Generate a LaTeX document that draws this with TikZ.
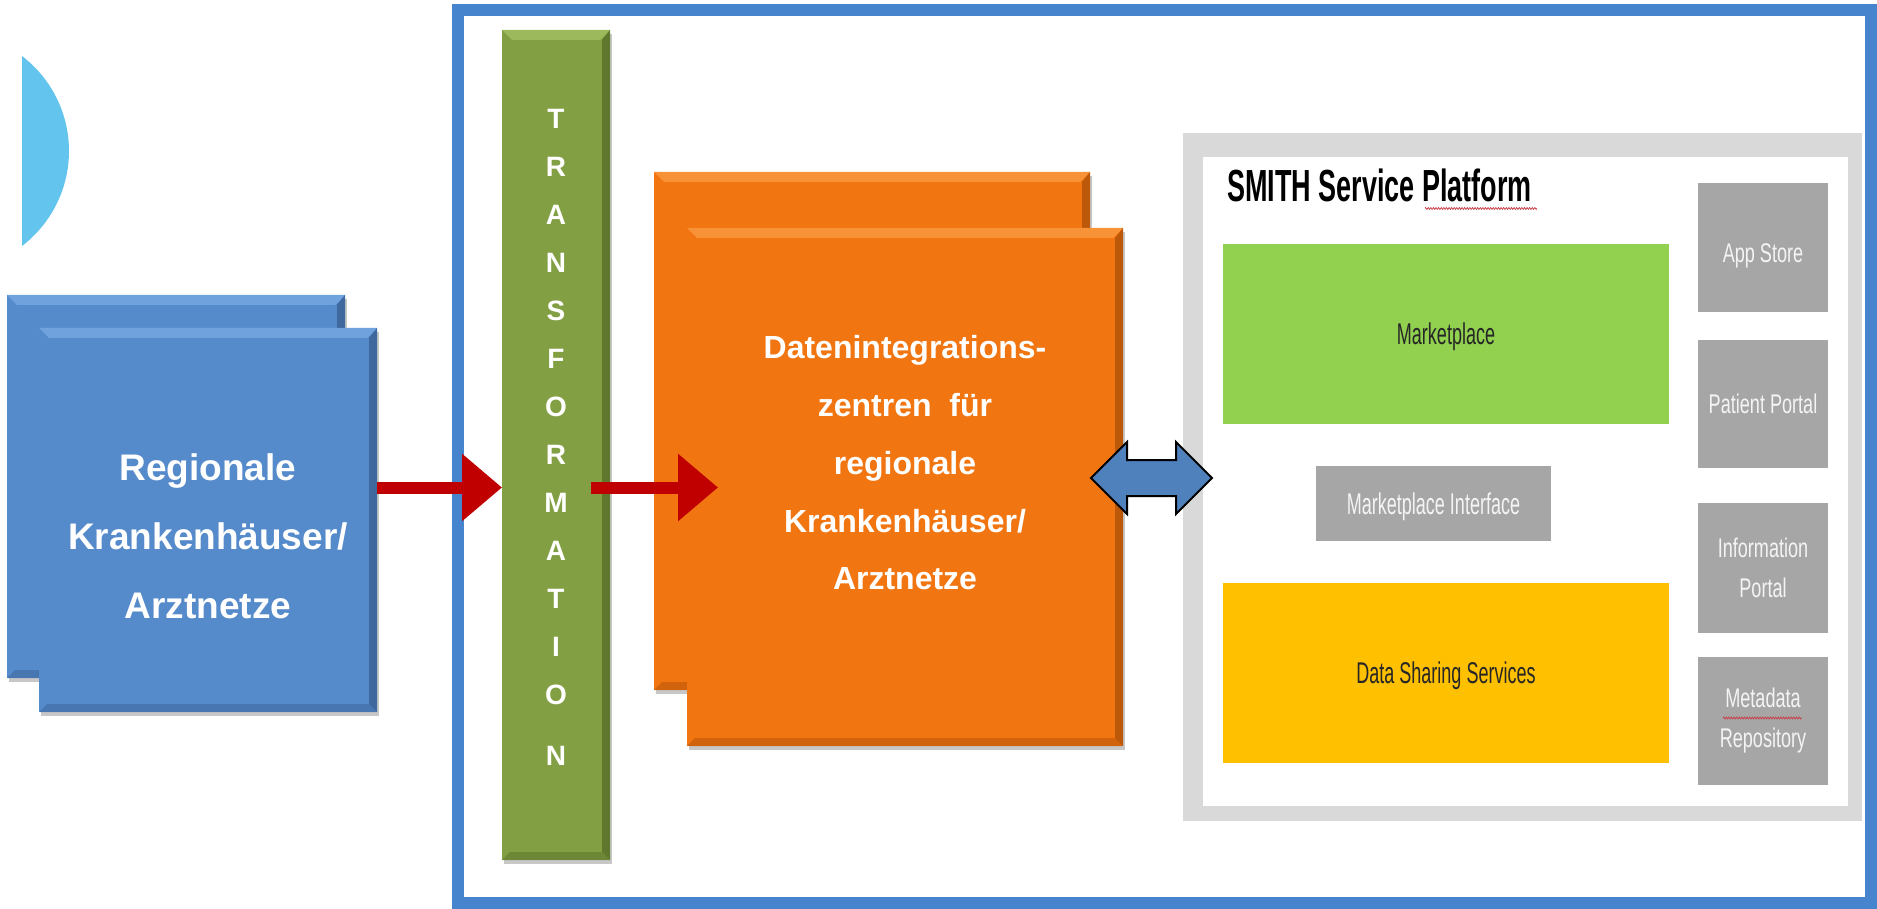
\documentclass[tikz,border=0pt]{standalone}
\usepackage{fontspec}
\setmainfont{Liberation Sans}
\newfontfamily\narrowfont[FakeStretch=0.6]{Liberation Sans}
\newfontfamily\tilefont[FakeStretch=0.67]{Liberation Sans}
\usetikzlibrary{arrows.meta,shadows,decorations.pathmorphing}

\definecolor{boxblue}{RGB}{86,139,203}
\definecolor{boxbluelt}{RGB}{112,163,222}
\definecolor{boxbluedk}{RGB}{62,104,158}
\definecolor{frameblue}{RGB}{71,132,206}
\definecolor{transgreen}{RGB}{130,159,67}
\definecolor{transgreenlt}{RGB}{156,186,92}
\definecolor{transgreendk}{RGB}{96,120,46}
\definecolor{orangebox}{RGB}{241,117,17}
\definecolor{orangelt}{RGB}{248,146,55}
\definecolor{orangedk}{RGB}{188,88,10}
\definecolor{arrowred}{RGB}{192,0,0}
\definecolor{semiblue}{RGB}{99,196,238}
\definecolor{darrow}{RGB}{79,129,189}
\definecolor{platgrey}{RGB}{217,217,217}
\definecolor{tilegrey}{RGB}{166,166,166}
\definecolor{tiletext}{RGB}{244,244,244}
\definecolor{mpgreen}{RGB}{146,208,80}
\definecolor{dssyellow}{RGB}{255,192,0}
\definecolor{squiggle}{RGB}{200,60,70}

\tikzset{
  every node/.style={inner sep=0pt, outer sep=0pt},
  panel/.style={rectangle, drop shadow={shadow xshift=2pt, shadow yshift=-4pt, fill=black, opacity=0.22}},
  bevel/.style 2 args={path picture={
      \fill[#1] (path picture bounding box.north west) -- (path picture bounding box.north east)
        -- ([shift={(-10pt,-10pt)}]path picture bounding box.north east)
        -- ([shift={(10pt,-10pt)}]path picture bounding box.north west) -- cycle;
      \fill[#2] (path picture bounding box.north east) -- (path picture bounding box.south east)
        -- ([shift={(-8pt,8pt)}]path picture bounding box.south east)
        -- ([shift={(-8pt,-10pt)}]path picture bounding box.north east) -- cycle;
      \fill[#2, opacity=0.6] (path picture bounding box.south west) -- (path picture bounding box.south east)
        -- ([shift={(-8pt,8pt)}]path picture bounding box.south east)
        -- ([shift={(8pt,8pt)}]path picture bounding box.south west) -- cycle;
  }},
  redarrow/.style={arrowred, line width=12pt, -{Triangle[length=40pt,width=65pt]}},
  tile/.style={rectangle, fill=tilegrey, text=tiletext, minimum width=130pt,
    font=\tilefont\fontsize{27}{40}\selectfont, align=center},
  platbox/.style={rectangle, minimum width=446pt, minimum height=180pt, text depth=0pt,
    font=\narrowfont\fontsize{30}{34}\selectfont, text=black!85},
  spell/.style={squiggle, line width=0.7pt, decorate, decoration={zigzag, segment length=2.6pt, amplitude=1pt}}
}

\begin{document}
\begin{tikzpicture}[x=1pt,y=-1pt]
\useasboundingbox (0,0) rectangle (1877,909);

% light blue segment at the left edge
\begin{scope}
  \clip (22,40) rectangle (90,260);
  \fill[semiblue] (-50.5,151) circle (119.5pt);
\end{scope}

% outer blue frame
\draw[frameblue, line width=12pt] (458,10) rectangle (1871,903);

% blue stacked boxes
\node[panel, fill=boxblue, bevel={boxbluelt}{boxbluedk}, minimum width=338pt, minimum height=383pt] (blueback) at (176,486.5) {};
\node[panel, fill=boxblue, bevel={boxbluelt}{boxbluedk}, minimum width=338pt, minimum height=384pt] (bluefront) at (208,520) {};
\node[font=\bfseries\fontsize{37}{69}\selectfont, text=white, align=center] (bluetext) at (208,536)
  {Regionale\\Krankenhäuser/\\Arztnetze};

% transformation bar
\node[panel, fill=transgreen, bevel={transgreenlt}{transgreendk}, minimum width=108pt, minimum height=830pt] (trans) at (556,445) {};
\node[font=\bfseries\fontsize{28}{48}\selectfont, text=white, align=center] (translabel) at (556,437)
  {T\\R\\A\\N\\S\\F\\O\\R\\M\\A\\T\\I\\O\\[13pt]N};

% arrow into the bar
\coordinate (ay) at (0,487.5);
\draw[redarrow] (bluefront.east |- ay) -- (trans.west |- ay);

% orange stacked boxes
\node[panel, fill=orangebox, bevel={orangelt}{orangedk}, minimum width=436pt, minimum height=518pt] (orangeback) at (872,431) {};
\node[panel, fill=orangebox, bevel={orangelt}{orangedk}, minimum width=436pt, minimum height=518pt] (orangefront) at (905,487) {};
\node[font=\bfseries\fontsize{32}{57.75}\selectfont, text=white, align=center] (orangetext) at (905,463)
  {Datenintegrations-\\zentren\ \ für\\regionale\\Krankenhäuser/\\Arztnetze};

% arrow out of the bar
\draw[redarrow] ([xshift=-19pt]trans.east |- ay) -- ([xshift=31pt]orangefront.west |- ay);

% SMITH service platform
\node[fill=platgrey, minimum width=679pt, minimum height=688pt] (platout) at (1522.5,477) {};
\node[fill=white, minimum width=645pt, minimum height=649pt] (platin) at (1525.5,481.5) {};
\node[font=\narrowfont\bfseries\fontsize{45}{50}\selectfont, anchor=base west] (title) at (1227,202) {SMITH Service Platform};
\draw[spell] (1425,208.5) -- (1537,208.5);

\node[platbox, fill=mpgreen] (market) at (1446,334) {Marketplace};
\node[rectangle, fill=tilegrey, text=tiletext, minimum width=235pt, minimum height=75pt, text depth=0pt,
  font=\narrowfont\fontsize{30}{34}\selectfont] (mpi) at (1433.5,503.5) {Marketplace Interface};
\node[platbox, fill=dssyellow] (dss) at (1446,673) {Data Sharing Services};

\node[tile, minimum height=129pt, text depth=0pt] (app) at (1763,248) {};
\node[font=\tilefont\fontsize{27}{40}\selectfont, text=tiletext, text depth=0pt] (applabel) at (1763,253) {App Store};
\node[tile, minimum height=128pt, text depth=0pt] (patient) at (1763,404) {Patient Portal};
\node[tile, minimum height=130pt] (info) at (1763,568) {Information\\Portal};
\node[tile, minimum height=128pt] (meta) at (1763,721) {Metadata\\Repository};
\draw[spell] (1723,718) -- (1802,718);

% double arrow between data integration centres and platform
\coordinate (dbl) at (1151.5,478);
\begin{scope}[shift={(dbl)}]
  \draw[black, line width=2pt, fill=darrow, line join=miter]
    (-60.5,0) -- (-24.5,-36) -- (-24.5,-18) -- (24.5,-18) -- (24.5,-36) -- (60.5,0)
    -- (24.5,36) -- (24.5,18) -- (-24.5,18) -- (-24.5,36) -- cycle;
\end{scope}
\end{tikzpicture}
\end{document}
